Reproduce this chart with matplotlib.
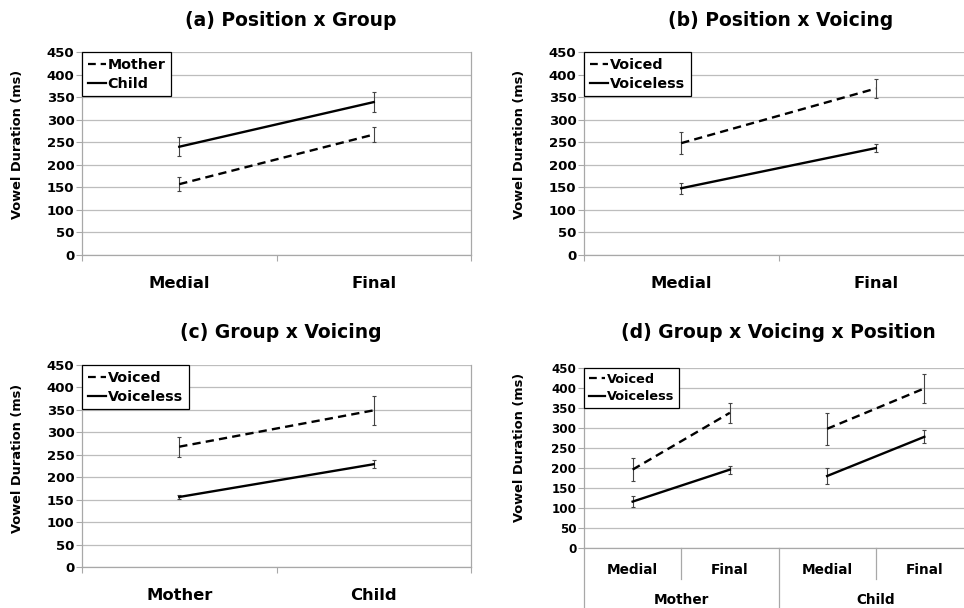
import matplotlib
matplotlib.use("Agg")
import matplotlib.pyplot as plt
from matplotlib.lines import Line2D
from matplotlib.transforms import blended_transform_factory

plt.rcParams['font.family'] = ['DejaVu Sans']
plt.rcParams['font.weight'] = 'bold'

# (a) Position x Group
pos_labels = ["Medial", "Final"]
mother_a = [157, 267]
mother_a_err = [15, 16]
child_a = [240, 339]
child_a_err = [21, 23]

# (b) Position x Voicing
voiced_b = [248, 369]
voiced_b_err = [25, 22]
voiceless_b = [148, 237]
voiceless_b_err = [12, 9]

# (c) Group x Voicing
group_labels = ["Mother", "Child"]
voiced_c = [268, 349]
voiced_c_err = [22, 32]
voiceless_c = [156, 229]
voiceless_c_err = [5, 9]

# (d) Group x Voicing x Position  (Mother Medial, Mother Final, Child Medial, Child Final)
voiced_d = [196, 338, 298, 399]
voiced_d_err = [28, 25, 40, 36]
voiceless_d = [116, 196, 180, 278]
voiceless_d_err = [14, 10, 20, 16]

yticks = list(range(0, 451, 50))
DASH = (0, (3.5, 2.2))
GRID = '#bdbdbd'
SPINE = '#a8a8a8'

fig = plt.figure(figsize=(9.64, 6.08), dpi=100)
W, H = 964, 608


def px_axes(l, r, t, b):
    return fig.add_axes([l / W, 1 - b / H, (r - l) / W, (b - t) / H])


def style(ax, ncat, tick_size=9.5):
    ax.set_ylim(0, 450)
    ax.set_xlim(-0.5, ncat - 0.5)
    ax.set_yticks(yticks)
    ax.yaxis.grid(True, color=GRID, lw=0.9)
    ax.set_axisbelow(True)
    ax.spines['top'].set_visible(False)
    for s in ['left', 'bottom', 'right']:
        ax.spines[s].set_color(SPINE)
        ax.spines[s].set_linewidth(0.9)
    ax.tick_params(axis='y', length=4, width=0.8, color=SPINE, pad=1.5,
                   labelsize=tick_size)
    for t in ax.get_yticklabels():
        t.set_fontweight('bold')


def series(ax, x, y, err, dashed):
    ax.errorbar(x, y, yerr=err, fmt='none', ecolor='#444444', elinewidth=0.8,
                capsize=1.5, capthick=0.8)
    ax.plot(x, y, color='black', lw=1.7, ls=DASH if dashed else '-')


def legend(ax, labels, size=10.3, pad=0.4):
    handles = [Line2D([], [], color='black', lw=1.6, ls=DASH),
               Line2D([], [], color='black', lw=1.6)]
    leg = ax.legend(handles, labels, loc='upper left', borderaxespad=0,
                    fancybox=False, edgecolor='black', framealpha=1,
                    handlelength=1.3, handletextpad=0.1, borderpad=pad,
                    labelspacing=0.35, prop={'weight': 'bold', 'size': size})
    leg.get_frame().set_linewidth(0.9)


def two_cat(ax, labels):
    ax.set_xticks([0, 1])
    ax.set_xticklabels(labels, fontsize=11.8, fontweight='bold')
    ax.tick_params(axis='x', which='major', length=0, pad=15)
    ax.set_xticks([-0.5, 0.5, 1.5], minor=True)
    ax.tick_params(axis='x', which='minor', length=4, width=0.8, color=SPINE)


def ylabel(x, y):
    fig.text(x / W, 1 - y / H, "Vowel Duration (ms)", rotation=90, ha='center',
             va='center', fontsize=9.4, fontweight='bold')


# (a)
ax = px_axes(82, 471, 52, 255)
style(ax, 2)
series(ax, [0, 1], mother_a, mother_a_err, True)
series(ax, [0, 1], child_a, child_a_err, False)
legend(ax, ["Mother", "Child"])
two_cat(ax, pos_labels)
fig.text(291 / W, 1 - 20 / H, "(a) Position x Group", ha='center', va='center',
         fontsize=13.5, fontweight='bold')
ylabel(18, 144)

# (b)
ax = px_axes(584, 973, 52, 255)
style(ax, 2)
series(ax, [0, 1], voiced_b, voiced_b_err, True)
series(ax, [0, 1], voiceless_b, voiceless_b_err, False)
legend(ax, ["Voiced", "Voiceless"])
two_cat(ax, pos_labels)
fig.text(781 / W, 1 - 20 / H, "(b) Position x Voicing", ha='center', va='center',
         fontsize=13.5, fontweight='bold')
ylabel(519, 144)

# (c)
ax = px_axes(82, 471, 365, 567)
style(ax, 2)
series(ax, [0, 1], voiced_c, voiced_c_err, True)
series(ax, [0, 1], voiceless_c, voiceless_c_err, False)
legend(ax, ["Voiced", "Voiceless"])
two_cat(ax, group_labels)
fig.text(281 / W, 1 - 332 / H, "(c) Group x Voicing", ha='center', va='center',
         fontsize=13.5, fontweight='bold')
ylabel(18, 458)

# (d)
ax = px_axes(584, 973, 368, 548)
style(ax, 4, tick_size=8.6)
for g in range(2):
    xs = [2 * g, 2 * g + 1]
    series(ax, xs, voiced_d[2 * g:2 * g + 2], voiced_d_err[2 * g:2 * g + 2], True)
    series(ax, xs, voiceless_d[2 * g:2 * g + 2], voiceless_d_err[2 * g:2 * g + 2], False)
legend(ax, ["Voiced", "Voiceless"], size=9.3, pad=0.35)
ax.set_xticks([])
axh = 180.0
tr = blended_transform_factory(ax.transData, ax.transAxes)
for x in [0.5, 2.5]:
    ax.plot([x, x], [0, -31 / axh], transform=tr, clip_on=False, color=SPINE, lw=0.9)
for x in [-0.5, 1.5, 3.5]:
    ax.plot([x, x], [0, -62 / axh], transform=tr, clip_on=False, color=SPINE, lw=0.9)
for i, lab in enumerate(pos_labels * 2):
    ax.text(i, -21.5 / axh, lab, transform=tr, ha='center', va='center',
            fontsize=9.8, fontweight='bold')
for g, lab in enumerate(group_labels):
    ax.text(2 * g + 0.5, -52.5 / axh, lab, transform=tr, ha='center', va='center',
            fontsize=9.8, fontweight='bold')
fig.text(778 / W, 1 - 333 / H, "(d) Group x Voicing x Position", ha='center',
         va='center', fontsize=13.5, fontweight='bold')
ylabel(519, 447)

fig.savefig("out.png", dpi=100)
